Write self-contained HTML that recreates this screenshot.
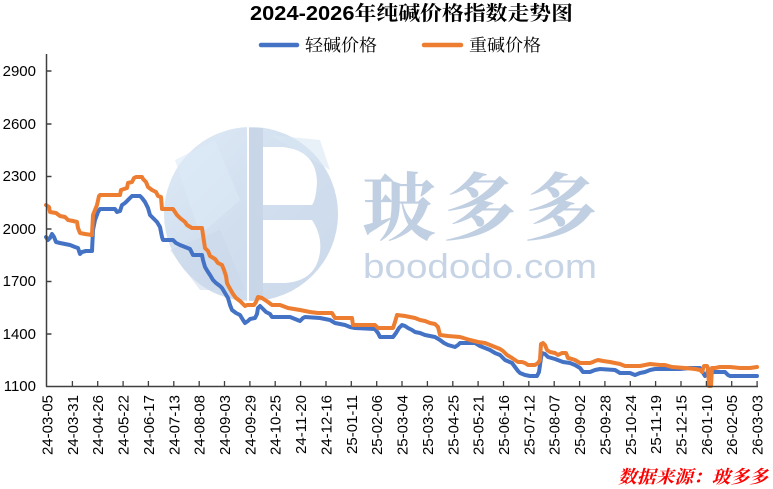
<!DOCTYPE html>
<html><head><meta charset="utf-8"><style>
html,body{margin:0;padding:0;background:#fff;}
svg{display:block;}
</style></head><body>
<svg width="773" height="489" viewBox="0 0 773 489" xmlns="http://www.w3.org/2000/svg">
<defs>
<linearGradient id="cg" x1="0" y1="0" x2="1" y2="1">
<stop offset="0" stop-color="#dfeaf6"/>
<stop offset="0.5" stop-color="#d0deee"/>
<stop offset="1" stop-color="#cbd9eb"/>
</linearGradient>
</defs>
<!-- watermark -->
<circle cx="251" cy="214" r="87" fill="url(#cg)"/>
<polygon points="175,160 215,140 240,200 200,235" fill="#dceaf6" opacity="0.6"/>
<polygon points="170,250 220,230 245,290 200,290" fill="#c9d8ea" opacity="0.5"/>
<polygon points="270,135 330,170 320,140" fill="#d8e6f3" opacity="0.6"/>
<rect x="248" y="128" width="15" height="172" fill="#c9d6e8"/>
<rect x="247" y="127" width="2" height="175" fill="#ffffff"/>
<path d="M263,147 L282,147 Q316,150 317,182 Q316,200 312,205 L263,205 Z" fill="#ffffff"/>
<path d="M263,220 L312,220 Q322,235 320,252 Q316,281 285,283 L263,283 Z" fill="#ffffff"/>
<text x="362" y="234" font-family="'Noto Serif CJK SC','WenQuanYi Zen Hei',serif" font-weight="bold" font-size="74" fill="#c0cfe2" textLength="236" lengthAdjust="spacing">玻多多</text>
<text x="363" y="278" font-family="'Liberation Sans',sans-serif" font-size="34" fill="#c6d4e5" textLength="234" lengthAdjust="spacingAndGlyphs">boododo.com</text>

<!-- title -->
<text x="250" y="20" font-family="'Liberation Sans','Noto Serif CJK SC',sans-serif" font-weight="bold" font-size="20" fill="#000" textLength="323" lengthAdjust="spacingAndGlyphs">2024-2026年纯碱价格指数走势图</text>

<!-- legend -->
<line x1="261" y1="45" x2="297" y2="45" stroke="#4472C4" stroke-width="4.5" stroke-linecap="round"/>
<text x="305" y="51" font-family="'Noto Serif CJK SC','Liberation Serif',serif" font-size="17" fill="#000" textLength="72" lengthAdjust="spacingAndGlyphs">轻碱价格</text>
<line x1="424" y1="45" x2="461" y2="45" stroke="#ED7D31" stroke-width="4.5" stroke-linecap="round"/>
<text x="469" y="51" font-family="'Noto Serif CJK SC','Liberation Serif',serif" font-size="17" fill="#000" textLength="72" lengthAdjust="spacingAndGlyphs">重碱价格</text>

<!-- y labels -->
<g font-family="'Liberation Sans',sans-serif" font-size="15" fill="#000" text-anchor="end">
<text x="36" y="76">2900</text>
<text x="36" y="129">2600</text>
<text x="36" y="181">2300</text>
<text x="36" y="234">2000</text>
<text x="36" y="286">1700</text>
<text x="36" y="339">1400</text>
<text x="36" y="391">1100</text>
</g>

<!-- series -->
<g fill="none" stroke-width="4" stroke-linejoin="round" stroke-linecap="round">
<polyline stroke="#4472C4" points="46,237 48,240 50,238 52,234 54,237 56,242 60,243 65,244 70,245 75,247 78,248 80,254 82,252 86,251 92,251 93,230 95,220 98,212 100,209 115,209 117,212 120,211 122,205 125,203 130,198 132,196 140,196 142,198 145,202 148,208 150,215 153,218 157,222 160,227 162,237 163,240 173,240 176,243 180,245 185,247 190,249 192,253 193,255 202,255 203,260 205,267 208,272 210,275 213,280 216,283 220,286 222,288 225,293 228,298 230,305 232,310 236,313 240,315 243,320 245,323 248,321 250,319 255,318 257,314 258,308 260,306 263,309 266,312 270,314 272,317 290,317 295,319 300,321 303,318 305,317 320,318 330,320 335,323 345,325 350,327 355,328 375,329 378,333 380,337 393,337 396,333 399,328 402,325 405,326 408,328 412,330 415,332 420,333 425,335 430,336 435,337 440,340 444,343 448,345 455,347 458,345 460,343 475,343 480,346 485,348 490,350 495,353 500,355 505,360 512,363 515,367 518,371 520,373 525,375 530,376 537,376 539,372 541,358 542,353 545,354 548,357 555,359 563,362 570,363 575,365 580,368 583,372 590,372 595,370 600,369 615,370 620,373 630,373 635,375 640,373 645,372 650,370 655,369 680,369 690,368 700,368 702,371 705,376 707,374 708,370 712,372 725,372 728,375 730,376 757,376"/>
<polyline stroke="#ED7D31" points="46,205 49,207 50,212 56,213 60,216 65,217 68,220 73,221 77,222 78,228 80,233 85,234 92,235 93,215 95,210 97,205 99,196 100,195 120,195 121,190 127,188 128,183 132,182 134,178 136,177 142,177 143,179 146,182 148,187 152,190 156,192 158,196 161,197 162,209 173,209 175,212 177,215 180,218 185,222 187,225 192,228 202,228 203,235 205,248 208,251 210,256 215,259 218,263 222,265 224,270 226,276 227,283 229,287 233,294 236,298 240,301 243,304 245,306 247,305 254,305 256,302 258,297 262,298 265,300 268,302 272,305 280,305 288,308 300,310 310,312 318,313 332,313 335,318 352,318 353,325 375,325 378,328 393,328 395,322 397,315 405,316 410,317 415,318 420,320 425,321 430,323 435,324 438,327 440,335 448,336 460,337 470,340 478,342 485,343 490,345 495,347 500,349 503,351 507,355 512,358 518,362 522,362 525,363 528,365 535,365 538,363 540,360 541,344 543,343 545,345 547,350 550,352 555,353 558,355 562,353 566,353 568,358 572,359 575,360 580,363 590,363 593,362 595,361 598,360 603,361 610,362 615,363 620,364 625,366 640,366 645,365 650,364 660,365 665,365 672,367 685,368 695,369 700,370 702,372 704,366 707,366 708,368 709,386 711,386 712,368 715,368 720,367 730,367 740,368 750,368 757,367"/>
</g>

<!-- axes -->
<g stroke="#404040" stroke-width="1.5">
<line x1="46.5" y1="54" x2="46.5" y2="386.5"/>
<line x1="46" y1="386.5" x2="758" y2="386.5"/>
<line x1="46.5" y1="71" x2="51.5" y2="71"/>
<line x1="46.5" y1="124" x2="51.5" y2="124"/>
<line x1="46.5" y1="176.5" x2="51.5" y2="176.5"/>
<line x1="46.5" y1="229" x2="51.5" y2="229"/>
<line x1="46.5" y1="281.5" x2="51.5" y2="281.5"/>
<line x1="46.5" y1="334" x2="51.5" y2="334"/>
</g>
<g stroke="#404040" stroke-width="1.3">
<line x1="72.4" y1="381" x2="72.4" y2="386"/>
<line x1="97.7" y1="381" x2="97.7" y2="386"/>
<line x1="123.1" y1="381" x2="123.1" y2="386"/>
<line x1="148.4" y1="381" x2="148.4" y2="386"/>
<line x1="173.8" y1="381" x2="173.8" y2="386"/>
<line x1="199.2" y1="381" x2="199.2" y2="386"/>
<line x1="224.5" y1="381" x2="224.5" y2="386"/>
<line x1="249.9" y1="381" x2="249.9" y2="386"/>
<line x1="275.2" y1="381" x2="275.2" y2="386"/>
<line x1="300.6" y1="381" x2="300.6" y2="386"/>
<line x1="326" y1="381" x2="326" y2="386"/>
<line x1="351.3" y1="381" x2="351.3" y2="386"/>
<line x1="376.7" y1="381" x2="376.7" y2="386"/>
<line x1="402" y1="381" x2="402" y2="386"/>
<line x1="427.4" y1="381" x2="427.4" y2="386"/>
<line x1="452.8" y1="381" x2="452.8" y2="386"/>
<line x1="478.1" y1="381" x2="478.1" y2="386"/>
<line x1="503.5" y1="381" x2="503.5" y2="386"/>
<line x1="528.8" y1="381" x2="528.8" y2="386"/>
<line x1="554.2" y1="381" x2="554.2" y2="386"/>
<line x1="579.6" y1="381" x2="579.6" y2="386"/>
<line x1="604.9" y1="381" x2="604.9" y2="386"/>
<line x1="630.3" y1="381" x2="630.3" y2="386"/>
<line x1="655.6" y1="381" x2="655.6" y2="386"/>
<line x1="681" y1="381" x2="681" y2="386"/>
<line x1="706.4" y1="381" x2="706.4" y2="386"/>
<line x1="731.7" y1="381" x2="731.7" y2="386"/>
<line x1="757.1" y1="381" x2="757.1" y2="386"/>
</g>

<!-- x labels -->
<g font-family="'Liberation Sans',sans-serif" font-size="15" fill="#000" text-anchor="end">
<text transform="translate(52.5,395) rotate(-90)">24-03-05</text>
<text transform="translate(77.9,395) rotate(-90)">24-03-31</text>
<text transform="translate(103.2,395) rotate(-90)">24-04-26</text>
<text transform="translate(128.6,395) rotate(-90)">24-05-22</text>
<text transform="translate(153.9,395) rotate(-90)">24-06-17</text>
<text transform="translate(179.3,395) rotate(-90)">24-07-13</text>
<text transform="translate(204.7,395) rotate(-90)">24-08-08</text>
<text transform="translate(230,395) rotate(-90)">24-09-03</text>
<text transform="translate(255.4,395) rotate(-90)">24-09-29</text>
<text transform="translate(280.7,395) rotate(-90)">24-10-25</text>
<text transform="translate(306.1,395) rotate(-90)">24-11-20</text>
<text transform="translate(331.5,395) rotate(-90)">24-12-16</text>
<text transform="translate(356.8,395) rotate(-90)">25-01-11</text>
<text transform="translate(382.2,395) rotate(-90)">25-02-06</text>
<text transform="translate(407.5,395) rotate(-90)">25-03-04</text>
<text transform="translate(432.9,395) rotate(-90)">25-03-30</text>
<text transform="translate(458.3,395) rotate(-90)">25-04-25</text>
<text transform="translate(483.6,395) rotate(-90)">25-05-21</text>
<text transform="translate(509,395) rotate(-90)">25-06-16</text>
<text transform="translate(534.3,395) rotate(-90)">25-07-12</text>
<text transform="translate(559.7,395) rotate(-90)">25-08-07</text>
<text transform="translate(585.1,395) rotate(-90)">25-09-02</text>
<text transform="translate(610.4,395) rotate(-90)">25-09-28</text>
<text transform="translate(635.8,395) rotate(-90)">25-10-24</text>
<text transform="translate(661.1,395) rotate(-90)">25-11-19</text>
<text transform="translate(686.5,395) rotate(-90)">25-12-15</text>
<text transform="translate(711.9,395) rotate(-90)">26-01-10</text>
<text transform="translate(737.2,395) rotate(-90)">26-02-05</text>
<text transform="translate(762.6,395) rotate(-90)">26-03-03</text>
</g>

<!-- source -->
<text x="618" y="483" font-family="'Liberation Serif','Noto Serif CJK SC',serif" font-weight="bold" font-style="italic" font-size="18" fill="#FF0000" textLength="150" lengthAdjust="spacingAndGlyphs">数据来源：玻多多</text>
</svg>
</body></html>
